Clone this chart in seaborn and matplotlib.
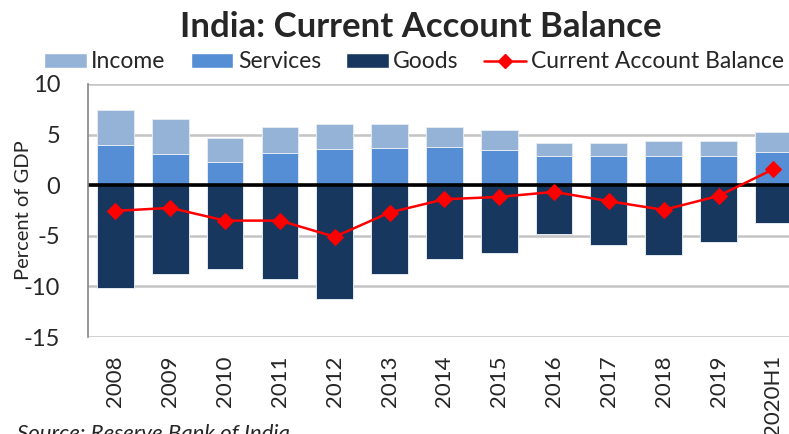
import matplotlib
matplotlib.use("Agg")
import matplotlib.pyplot as plt
from matplotlib.patches import Patch
from matplotlib.lines import Line2D
import seaborn as sns

#%% DATA
years = ["2008", "2009", "2010", "2011", "2012", "2013", "2014",
         "2015", "2016", "2017", "2018", "2019", "2020H1"]
services = [3.96, 3.07, 2.31, 3.20, 3.56, 3.66, 3.76, 3.43, 2.87, 2.87, 2.87, 2.87, 3.30]
income = [3.47, 3.43, 2.31, 2.58, 2.44, 2.34, 1.98, 2.02, 1.32, 1.32, 1.52, 1.52, 1.91]
goods = [-10.13, -8.75, -8.25, -9.27, -11.2, -8.75, -7.29, -6.67, -4.85, -5.90, -6.93, -5.58, -3.70]
cab = [-2.54, -2.24, -3.50, -3.50, -5.10, -2.70, -1.39, -1.16, -0.66, -1.58, -2.44, -1.06, 1.58]
y_ticks = [-15, -10, -5, 0, 5, 10]

#%% STYLE
sns.set_style("white")
plt.rcParams["font.family"] = ["Lato", "DejaVu Sans"]
plt.rcParams["axes.unicode_minus"] = False

C_INCOME = "#95B3D7"
C_SERV = "#558ED5"
C_GOODS = "#17375E"
C_CAB = "#FF0000"
C_GRID = "#C4C4C4"

fig = plt.figure(figsize=(7.89, 4.34), dpi=100)
ax = fig.add_axes([0.1115, 0.2235, 0.9034, 0.583])

# gridlines first, so they sit behind the bars
for yt in y_ticks:
    ax.axhline(yt, color=C_GRID, linewidth=1.8, zorder=1.5)

bar_kw = dict(width=0.67, edgecolor="#E4EAF2", linewidth=0.7,
              saturation=1, ax=ax, zorder=2)
sns.barplot(x=years, y=goods, color=C_GOODS, **bar_kw)
sns.barplot(x=years, y=services, color=C_SERV, **bar_kw)
sns.barplot(x=years, y=income, bottom=services, color=C_INCOME, **bar_kw)

ax.axhline(0, color="black", linewidth=2.6, zorder=3)
sns.lineplot(x=years, y=cab, color=C_CAB, linewidth=1.8, marker="D",
             markersize=8.5, markeredgecolor=C_CAB, sort=False, ax=ax, zorder=4)

ax.set_xlim(-0.5, len(years) - 0.5)
ax.set_ylim(-15, 10)
ax.set_yticks(y_ticks)

for s in ["top", "right", "bottom"]:
    ax.spines[s].set_visible(False)
ax.spines["left"].set_color("#868686")
ax.spines["left"].set_linewidth(1.2)
ax.spines["left"].set_zorder(5)

ax.tick_params(axis="y", length=6, width=1.2, color="#868686",
               labelsize=17, pad=14, direction="out")
ax.tick_params(axis="x", length=0, labelsize=16, pad=13, labelrotation=90)
ax.set_xlabel("")
ax.set_ylabel("Percent of GDP", fontsize=14.5)
ax.yaxis.set_label_coords(-0.079, 0.5)

# title and legend
fig.text(0.533, 1 - 37 / 434, "India: Current Account Balance",
         ha="center", va="baseline", fontsize=25, fontweight="bold")

handles = [
    Patch(facecolor=C_INCOME, label="Income"),
    Patch(facecolor=C_SERV, label="Services"),
    Patch(facecolor=C_GOODS, label="Goods"),
    Line2D([0], [0], color=C_CAB, linewidth=1.8, marker="D",
           markersize=7, label="Current Account Balance"),
]
fig.legend(handles=handles, loc="center", ncol=4,
           bbox_to_anchor=(414 / 789, 1 - 62 / 434), frameon=False,
           fontsize=16.5, handlelength=1.85, handleheight=0.6,
           handletextpad=0.2, columnspacing=1.1, borderpad=0)

fig.text(17 / 789, 1 - 424 / 434, "Source: Reserve Bank of India",
         ha="left", va="top", fontsize=16, style="italic")

plt.savefig("out.png", dpi=100)
